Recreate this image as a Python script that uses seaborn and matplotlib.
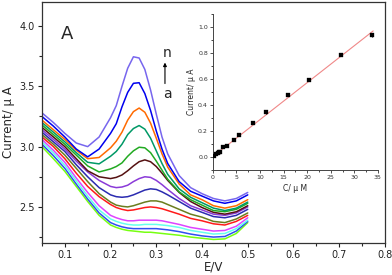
import numpy as np
import pandas as pd
import seaborn as sns
import matplotlib.pyplot as plt
from matplotlib.ticker import MultipleLocator

# potenciais (V)
E = [0.05, 0.075, 0.1, 0.125, 0.15, 0.175, 0.2, 0.2125, 0.225, 0.2375, 0.25, 0.2625,
     0.275, 0.2875, 0.3, 0.3125, 0.325, 0.35, 0.375, 0.4, 0.425, 0.45, 0.475, 0.5]

# correntes (uA), curva a (baixo) ate n (topo)
cur_a = [3.00, 2.90, 2.795, 2.67, 2.545, 2.43, 2.35, 2.33, 2.315, 2.305, 2.30, 2.295,
         2.29, 2.29, 2.285, 2.28, 2.275, 2.265, 2.25, 2.24, 2.23, 2.235, 2.28, 2.37]
cur_b = [3.02, 2.925, 2.82, 2.69, 2.565, 2.45, 2.37, 2.35, 2.335, 2.325, 2.32, 2.32,
         2.32, 2.32, 2.32, 2.315, 2.31, 2.295, 2.275, 2.26, 2.25, 2.255, 2.30, 2.38]
cur_c = [3.04, 2.95, 2.845, 2.715, 2.59, 2.475, 2.40, 2.38, 2.365, 2.355, 2.35, 2.35,
         2.355, 2.355, 2.355, 2.35, 2.345, 2.33, 2.305, 2.29, 2.275, 2.28, 2.32, 2.39]
cur_d = [3.06, 2.97, 2.87, 2.74, 2.62, 2.51, 2.43, 2.41, 2.395, 2.385, 2.385, 2.39,
         2.39, 2.39, 2.39, 2.385, 2.375, 2.355, 2.33, 2.315, 2.30, 2.305, 2.34, 2.41]
cur_e = [3.08, 3.00, 2.90, 2.78, 2.67, 2.585, 2.52, 2.495, 2.48, 2.47, 2.475, 2.485,
         2.495, 2.50, 2.495, 2.485, 2.47, 2.44, 2.405, 2.385, 2.36, 2.35, 2.38, 2.43]
cur_f = [3.10, 3.02, 2.93, 2.82, 2.71, 2.61, 2.54, 2.515, 2.505, 2.50, 2.51, 2.525,
         2.54, 2.55, 2.55, 2.54, 2.52, 2.48, 2.44, 2.415, 2.38, 2.37, 2.40, 2.45]
cur_g = [3.12, 3.04, 2.96, 2.85, 2.75, 2.66, 2.60, 2.585, 2.58, 2.585, 2.60, 2.62,
         2.64, 2.65, 2.645, 2.625, 2.60, 2.545, 2.49, 2.455, 2.42, 2.41, 2.43, 2.48]
cur_h = [3.14, 3.06, 2.98, 2.88, 2.79, 2.72, 2.67, 2.66, 2.665, 2.68, 2.71, 2.735,
         2.75, 2.745, 2.72, 2.685, 2.645, 2.57, 2.51, 2.475, 2.44, 2.43, 2.45, 2.50]
cur_i = [3.16, 3.08, 3.00, 2.90, 2.80, 2.75, 2.735, 2.745, 2.765, 2.80, 2.84, 2.875,
         2.89, 2.875, 2.835, 2.78, 2.72, 2.62, 2.545, 2.495, 2.455, 2.44, 2.46, 2.51]
cur_j = [3.18, 3.10, 3.02, 2.93, 2.84, 2.79, 2.815, 2.835, 2.865, 2.92, 2.965, 2.995,
         2.99, 2.95, 2.88, 2.805, 2.73, 2.625, 2.56, 2.515, 2.47, 2.46, 2.48, 2.53]
cur_k = [3.20, 3.12, 3.04, 2.95, 2.87, 2.857, 2.92, 2.96, 3.02, 3.10, 3.15, 3.175,
         3.145, 3.07, 2.965, 2.86, 2.77, 2.65, 2.58, 2.535, 2.49, 2.47, 2.49, 2.54]
cur_l = [3.22, 3.14, 3.06, 2.97, 2.90, 2.91, 2.99, 3.045, 3.12, 3.22, 3.29, 3.32,
         3.285, 3.195, 3.07, 2.94, 2.83, 2.69, 2.60, 2.56, 2.51, 2.49, 2.51, 2.56]
cur_m = [3.25, 3.17, 3.08, 2.98, 2.915, 2.98, 3.11, 3.19, 3.33, 3.45, 3.525, 3.53,
         3.44, 3.30, 3.13, 2.98, 2.86, 2.71, 2.63, 2.59, 2.55, 2.53, 2.55, 2.60]
cur_n = [3.28, 3.20, 3.11, 3.03, 3.00, 3.08, 3.24, 3.34, 3.50, 3.65, 3.745, 3.735,
         3.64, 3.47, 3.27, 3.08, 2.94, 2.76, 2.66, 2.61, 2.57, 2.55, 2.57, 2.62]

curvas = [cur_a, cur_b, cur_c, cur_d, cur_e, cur_f, cur_g,
          cur_h, cur_i, cur_j, cur_k, cur_l, cur_m, cur_n]
nomes = list('abcdefghijklmn')
cores = ['#77ff11', '#3050f0', '#66ffee', '#dd44ff', '#ff1a1a', '#6b7d1e', '#2b2bb0',
         '#8a3ad8', '#551111', '#22aa22', '#009966', '#ff6a00', '#0000ee', '#7766ee']

# curva de calibracao (inset)
conc = [0.3, 0.6, 1.0, 1.3, 1.6, 2.2, 3.0, 4.4, 5.5, 8.6, 11.2, 16.0, 20.3, 27.2, 33.8]
pico = [0.01, 0.02, 0.03, 0.035, 0.04, 0.077, 0.086, 0.128, 0.168, 0.26, 0.345,
        0.48, 0.59, 0.785, 0.94]
erro = [0.005, 0.005, 0.005, 0.005, 0.005, 0.006, 0.006, 0.006, 0.006, 0.008,
        0.012, 0.012, 0.008, 0.008, 0.014]
fit_x = [0.0, 34.0]
fit_y = [0.003, 0.97]

sns.set_style('ticks')
plt.rcParams['font.family'] = ['DejaVu Sans']

df = pd.DataFrame({
    'E': np.tile(E, len(curvas)),
    'I': np.concatenate(curvas),
    'curva': np.repeat(nomes, len(E)),
})

fig = plt.figure(figsize=(3.92, 2.75), dpi=100)
ax = fig.add_axes([0.107, 0.116, 0.875, 0.877])
sns.lineplot(data=df, x='E', y='I', hue='curva', palette=cores, linewidth=1.1,
             legend=False, ax=ax, sort=False)
ax.set_xlim(0.05, 0.8)
ax.set_ylim(2.2, 4.2)
ax.xaxis.set_major_locator(MultipleLocator(0.1))
ax.xaxis.set_minor_locator(MultipleLocator(0.05))
ax.yaxis.set_major_locator(MultipleLocator(0.5))
ax.yaxis.set_minor_locator(MultipleLocator(0.25))
ax.tick_params(which='major', length=3, width=0.8, labelsize=7, pad=2, colors='#222')
ax.tick_params(which='minor', length=2, width=0.8)
ax.set_xlabel('E/V', fontsize=8.5, labelpad=0.5)
ax.set_ylabel('Current/ μ A', fontsize=8.5, labelpad=3)
for s in ax.spines.values():
    s.set_linewidth(0.9)
    s.set_color('#333')

ax.text(0.092, 3.93, 'A', fontsize=13, va='center', ha='left')
ax.text(0.324, 3.78, 'n', fontsize=10, va='center', ha='center')
ax.text(0.324, 3.44, 'a', fontsize=10, va='center', ha='center')
ax.annotate('', xy=(0.319, 3.72), xytext=(0.319, 3.50),
            arrowprops=dict(arrowstyle='-|>', color='k', lw=0.8, mutation_scale=5))

# inset
axi = fig.add_axes([0.543, 0.382, 0.421, 0.567])
axi.set_facecolor('none')
axi.plot(fit_x, fit_y, color='#f08888', lw=0.8)
axi.errorbar(conc, pico, yerr=erro, fmt='none', ecolor='k', elinewidth=0.8, capsize=0)
sns.scatterplot(x=conc, y=pico, marker='s', s=8, color='k', edgecolor='k', ax=axi, zorder=3)
axi.set_xlim(0, 35)
axi.set_ylim(-0.1, 1.1)
axi.xaxis.set_major_locator(MultipleLocator(5))
axi.xaxis.set_minor_locator(MultipleLocator(2.5))
axi.yaxis.set_major_locator(MultipleLocator(0.2))
axi.yaxis.set_minor_locator(MultipleLocator(0.1))
axi.tick_params(which='major', length=2, width=0.6, labelsize=4.5, pad=1.5, colors='#333')
axi.tick_params(which='minor', length=1.2, width=0.6)
axi.set_xlabel('C/ μ M', fontsize=5.5, labelpad=3)
axi.set_ylabel('Current/ μ A', fontsize=5.5, labelpad=1.5)
sns.despine(ax=axi)
for s in ['left', 'bottom']:
    axi.spines[s].set_linewidth(0.7)
    axi.spines[s].set_color('#444')

fig.savefig('out.png', dpi=100)
